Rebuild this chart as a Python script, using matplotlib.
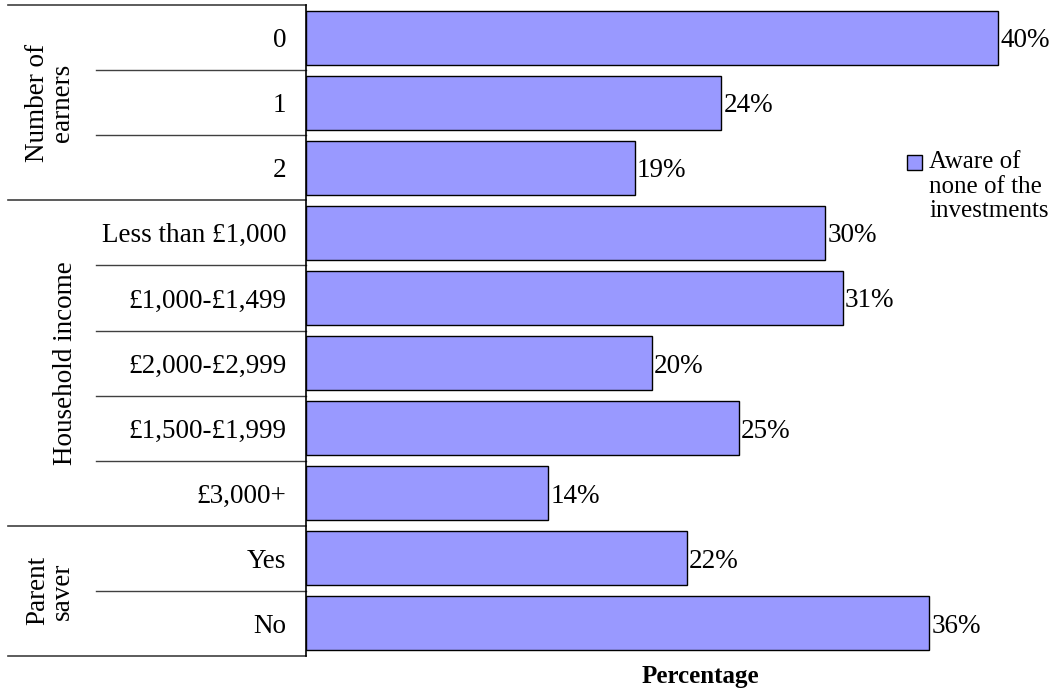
import numpy as np
import matplotlib.pyplot as plt
from matplotlib.transforms import blended_transform_factory
from matplotlib.patches import Rectangle

plt.rcParams['font.family'] = ['Liberation Serif', 'DejaVu Serif']

categories = ['0', '1', '2', 'Less than £1,000', '£1,000-£1,499', '£2,000-£2,999',
              '£1,500-£1,999', '£3,000+', 'Yes', 'No']
values = [40, 24, 19, 30, 31, 20, 25, 14, 22, 36]
groups = ['Number of\nearners', 'Household income', 'Parent\nsaver']
group_sizes = [3, 5, 2]
series_name = 'Aware of\nnone of the\ninvestments'
bar_color = '#9999FF'
fs = 19.5

W, H = 1055, 690
fig = plt.figure(figsize=(W / 100, H / 100), dpi=100)
left_px, right_px, top_px, bot_px = 306, 1000, 5, 656
ax = fig.add_axes([left_px / W, 1 - bot_px / H, (right_px - left_px) / W, (bot_px - top_px) / H])

y = np.arange(len(categories))
ax.barh(y, values, height=0.83, color=bar_color, edgecolor='black', linewidth=1)
ax.set_xlim(0, 40.1)
ax.set_ylim(len(categories) - 0.5, -0.5)

for yi, v in zip(y, values):
    ax.annotate(f'{v}%', (v, yi), xytext=(1.5, 0), textcoords='offset points',
                va='center_baseline', ha='left', fontsize=fs, clip_on=False)

ax.set_yticks(y)
ax.set_yticklabels(categories, fontsize=fs)
ax.tick_params(axis='y', length=0, pad=14)
ax.set_xticks([])
for s in ['top', 'right', 'bottom']:
    ax.spines[s].set_visible(False)
ax.spines['left'].set_linewidth(1.2)

# left table lines
tr = blended_transform_factory(fig.transFigure, ax.transData)
start = 0
bounds = [-0.5]
for g, n in zip(groups, group_sizes):
    end = start + n
    bounds.append(end - 0.5)
    for k in range(start + 1, end):
        ax.plot([96 / W, left_px / W], [k - 0.5, k - 0.5], color='#404040', lw=1,
                transform=tr, clip_on=False)
    xc = 65 if '\n' not in g else 50
    ax.text(xc / W, (start + end - 1) / 2, g, rotation=90, ha='center', va='center',
            fontsize=fs, transform=tr, linespacing=0.95, multialignment='center')
    start = end
for b in bounds:
    ax.plot([8 / W, left_px / W], [b, b], color='#404040', lw=1.2, transform=tr, clip_on=False)

# legend
fig.patches.append(Rectangle((907 / W, 1 - 170 / H), 15 / W, 15 / H, facecolor=bar_color,
                             edgecolor='black', linewidth=1, transform=fig.transFigure))
fig.text(929 / W, 1 - 151 / H, series_name, ha='left', va='top', fontsize=18, linespacing=1.15)

fig.text(700 / W, 1 - 677 / H, 'Percentage', ha='center', va='center',
         fontsize=18, fontweight='bold')

fig.savefig('out.png', dpi=100)
